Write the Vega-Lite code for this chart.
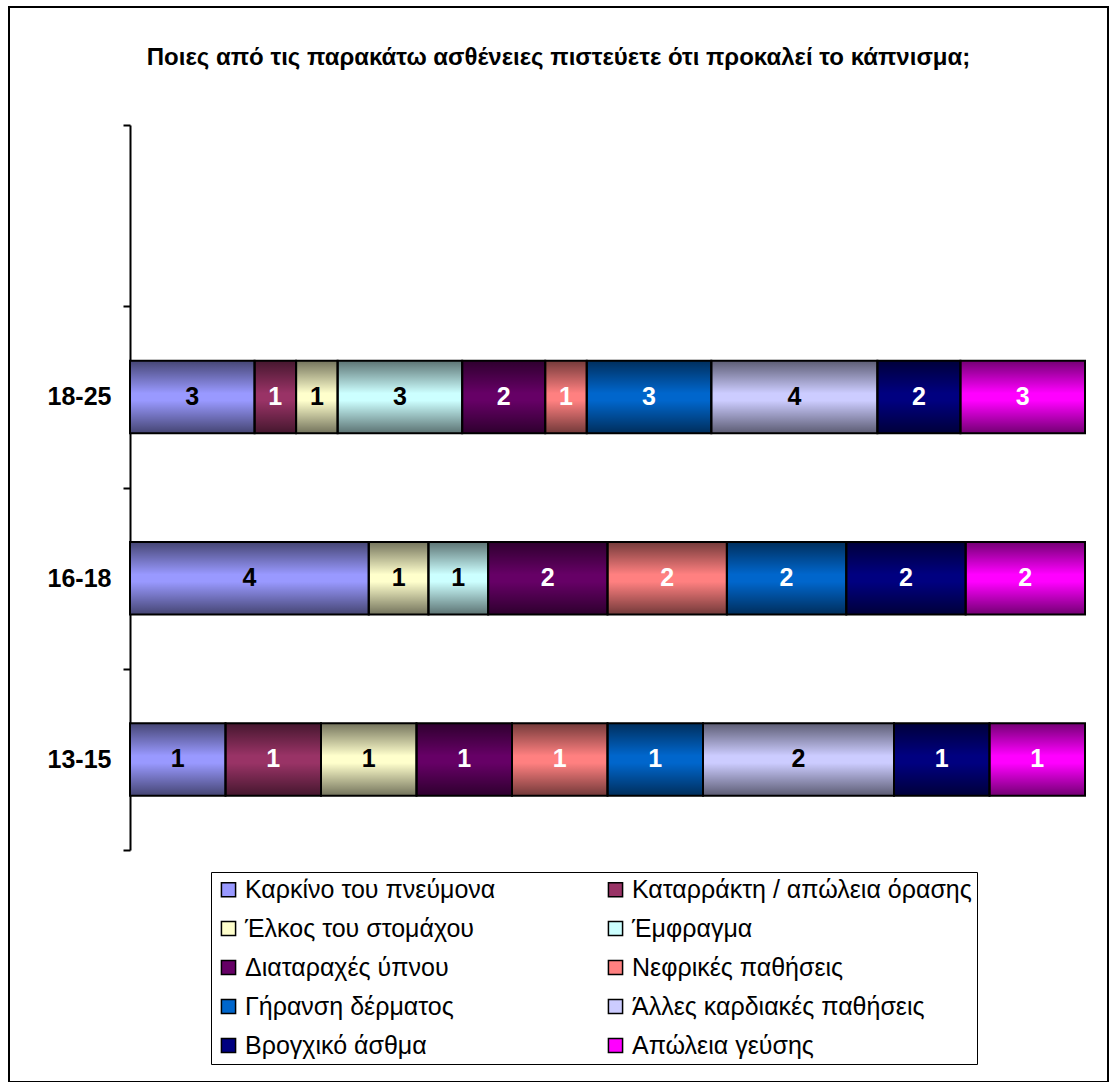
{
  "$schema": "https://vega.github.io/schema/vega-lite/v6.json",
  "width": 1099,
  "height": 1075,
  "autosize": {"type": "none"},
  "padding": {"left": 9, "top": 7, "right": 2, "bottom": 0},
  "background": "white",
  "config": {
    "view": {"stroke": "black", "strokeWidth": 2},
    "font": "Liberation Sans, Arial, sans-serif"
  },
  "title": {
    "text": "Ποιες από τις παρακάτω ασθένειες πιστεύετε ότι προκαλεί το κάπνισμα;",
    "font": "Liberation Sans, Arial, sans-serif",
    "fontSize": 24,
    "fontWeight": "bold",
    "color": "black",
    "anchor": "middle",
    "baseline": "middle",
    "offset": 0,
    "dy": 87
  },
  "data": {
    "values": [
      {"age": "18-25", "n": 1, "disease": "Καρκίνο του πνεύμονα", "value": 3},
      {"age": "18-25", "n": 2, "disease": "Καταρράκτη / απώλεια όρασης", "value": 1},
      {"age": "18-25", "n": 3, "disease": "Έλκος του στομάχου", "value": 1},
      {"age": "18-25", "n": 4, "disease": "Έμφραγμα", "value": 3},
      {"age": "18-25", "n": 5, "disease": "Διαταραχές ύπνου", "value": 2},
      {"age": "18-25", "n": 6, "disease": "Νεφρικές παθήσεις", "value": 1},
      {"age": "18-25", "n": 7, "disease": "Γήρανση δέρματος", "value": 3},
      {"age": "18-25", "n": 8, "disease": "Άλλες καρδιακές παθήσεις", "value": 4},
      {"age": "18-25", "n": 9, "disease": "Βρογχικό άσθμα", "value": 2},
      {"age": "18-25", "n": 10, "disease": "Απώλεια γεύσης", "value": 3},
      {"age": "16-18", "n": 1, "disease": "Καρκίνο του πνεύμονα", "value": 4},
      {"age": "16-18", "n": 3, "disease": "Έλκος του στομάχου", "value": 1},
      {"age": "16-18", "n": 4, "disease": "Έμφραγμα", "value": 1},
      {"age": "16-18", "n": 5, "disease": "Διαταραχές ύπνου", "value": 2},
      {"age": "16-18", "n": 6, "disease": "Νεφρικές παθήσεις", "value": 2},
      {"age": "16-18", "n": 7, "disease": "Γήρανση δέρματος", "value": 2},
      {"age": "16-18", "n": 9, "disease": "Βρογχικό άσθμα", "value": 2},
      {"age": "16-18", "n": 10, "disease": "Απώλεια γεύσης", "value": 2},
      {"age": "13-15", "n": 1, "disease": "Καρκίνο του πνεύμονα", "value": 1},
      {"age": "13-15", "n": 2, "disease": "Καταρράκτη / απώλεια όρασης", "value": 1},
      {"age": "13-15", "n": 3, "disease": "Έλκος του στομάχου", "value": 1},
      {"age": "13-15", "n": 5, "disease": "Διαταραχές ύπνου", "value": 1},
      {"age": "13-15", "n": 6, "disease": "Νεφρικές παθήσεις", "value": 1},
      {"age": "13-15", "n": 7, "disease": "Γήρανση δέρματος", "value": 1},
      {"age": "13-15", "n": 8, "disease": "Άλλες καρδιακές παθήσεις", "value": 2},
      {"age": "13-15", "n": 9, "disease": "Βρογχικό άσθμα", "value": 1},
      {"age": "13-15", "n": 10, "disease": "Απώλεια γεύσης", "value": 1}
    ]
  },
  "encoding": {
    "y": {
      "field": "age",
      "type": "nominal",
      "scale": {"domain": [" ", "18-25", "16-18", "13-15"], "range": [118, 843], "padding": 0},
      "axis": {
        "orient": "left",
        "offset": -121,
        "title": null,
        "grid": false,
        "domainColor": "black",
        "domainWidth": 2,
        "tickColor": "black",
        "tickWidth": 2,
        "tickSize": 7,
        "tickBand": "extent",
        "labelFont": "Liberation Sans, Arial, sans-serif",
        "labelFontSize": 25,
        "labelFontWeight": "bold",
        "labelColor": "black",
        "labelPadding": 12
      }
    },
    "order": {"field": "n", "type": "quantitative"},
    "detail": {"field": "disease", "type": "nominal"}
  },
  "layer": [
    {
      "mark": {"type": "bar", "height": {"band": 0.4}, "opacity": 1},
      "encoding": {
        "x": {
          "field": "value",
          "type": "quantitative",
          "stack": "normalize",
          "scale": {"domain": [0, 1], "range": [121, 1076], "nice": false, "zero": false},
          "axis": null
        },
        "color": {
          "field": "disease",
          "type": "nominal",
          "scale": {
            "domain": ["Καρκίνο του πνεύμονα", "Καταρράκτη / απώλεια όρασης", "Έλκος του στομάχου", "Έμφραγμα", "Διαταραχές ύπνου", "Νεφρικές παθήσεις", "Γήρανση δέρματος", "Άλλες καρδιακές παθήσεις", "Βρογχικό άσθμα", "Απώλεια γεύσης"],
            "range": ["#9999FF", "#993366", "#FFFFCC", "#CCFFFF", "#660066", "#FF8080", "#0066CC", "#CCCCFF", "#000080", "#FF00FF"]
          },
          "legend": {
            "orient": "none",
            "direction": "horizontal",
            "legendX": 202,
            "legendY": 865,
            "columns": 2,
            "title": null,
            "strokeColor": "black",
            "padding": 5,
            "symbolType": "square",
            "symbolSize": 200,
            "symbolStrokeColor": "black",
            "symbolStrokeWidth": 1.5,
            "symbolOpacity": 1,
            "labelFont": "Liberation Sans, Arial, sans-serif",
            "labelFontSize": 25,
            "labelColor": "black",
            "labelOffset": 4,
            "labelLimit": 600,
            "rowPadding": 13,
            "columnPadding": 107
          }
        }
      }
    },
    {
      "mark": {
        "type": "bar",
        "height": {"band": 0.4},
        "stroke": "black",
        "strokeWidth": 2,
        "fill": {
          "gradient": "linear",
          "x1": 0, "y1": 0, "x2": 0, "y2": 1,
          "stops": [
            {"offset": 0, "color": "rgba(0,0,0,0.55)"},
            {"offset": 0.45, "color": "rgba(0,0,0,0)"},
            {"offset": 0.55, "color": "rgba(0,0,0,0)"},
            {"offset": 1, "color": "rgba(0,0,0,0.55)"}
          ]
        }
      },
      "encoding": {
        "x": {"field": "value", "type": "quantitative", "stack": "normalize"}
      }
    },
    {
      "mark": {
        "type": "text",
        "font": "Liberation Sans, Arial, sans-serif",
        "fontSize": 25,
        "fontWeight": "bold",
        "baseline": "middle",
        "align": "center"
      },
      "encoding": {
        "x": {"field": "value", "type": "quantitative", "stack": "normalize", "bandPosition": 0.5},
        "text": {"field": "value", "type": "quantitative"},
        "color": {
          "condition": {
            "test": "indexof(['Καρκίνο του πνεύμονα','Έλκος του στομάχου','Έμφραγμα','Άλλες καρδιακές παθήσεις'], datum.disease) >= 0",
            "value": "black"
          },
          "value": "white"
        }
      }
    }
  ]
}
